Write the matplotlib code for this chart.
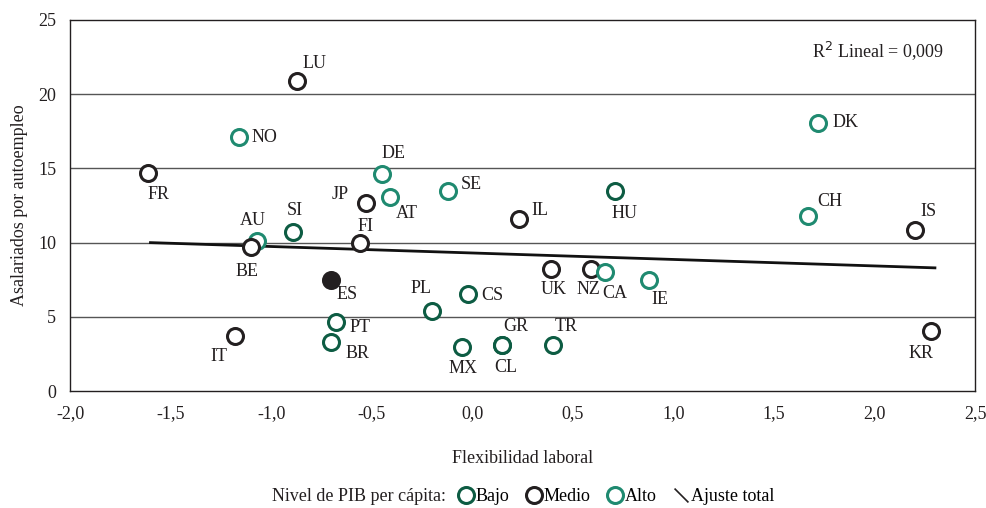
import numpy as np
import matplotlib
matplotlib.use('Agg')
import matplotlib.pyplot as plt
from matplotlib.lines import Line2D
from matplotlib.path import Path
from matplotlib.ticker import FuncFormatter

# DATA ------------------------------------------------------------------------
countries = ['FR', 'LU', 'NO', 'DE', 'JP', 'AT', 'SE', 'AU', 'BE', 'SI', 'FI',
             'ES', 'IL', 'HU', 'DK', 'CH', 'IS', 'PL', 'CS', 'PT', 'BR', 'IT',
             'MX', 'GR', 'CL', 'TR', 'UK', 'NZ', 'CA', 'IE', 'KR']
flex = [-1.61, -0.87, -1.16, -0.45, -0.53, -0.41, -0.12, -1.07, -1.10, -0.89, -0.56,
        -0.70, 0.23, 0.71, 1.72, 1.67, 2.20, -0.20, -0.02, -0.68, -0.70, -1.18,
        -0.05, 0.15, 0.15, 0.40, 0.39, 0.59, 0.66, 0.88, 2.28]
asal = [14.7, 20.9, 17.1, 14.6, 12.7, 13.1, 13.5, 10.1, 9.7, 10.7, 9.97,
        7.5, 11.6, 13.5, 18.05, 11.8, 10.85, 5.4, 6.55, 4.65, 3.3, 3.7,
        2.95, 3.1, 3.1, 3.1, 8.2, 8.2, 8.0, 7.5, 4.05]
nivel = ['M', 'M', 'A', 'A', 'M', 'A', 'A', 'A', 'M', 'B', 'M',
         'ES', 'M', 'B', 'A', 'A', 'M', 'B', 'B', 'B', 'B', 'M',
         'B', 'B', 'B', 'B', 'M', 'M', 'A', 'A', 'M']
# label offsets (pixels) from each point
lab_dx = [10, 17, 25, 12, -26, 17, 23, -4, -4, 2, 6,
          16, 21, 9, 27, 22, 14, -11, 24, 24, 26, -16,
          1, 13, 3, 13, 3, -3, 10, 11, -10]
lab_dy = [-22, 17, 0, 21, 8, -17, 6, 21, -24, 22, 17,
          -15, 8, -23, 1, 14, 18, 22, -2, -5, -11, -20,
          -21, 19, -22, 19, -20, -20, -21, -20, -22]

fit_x = [-1.6, 2.3]
fit_y = [10.0, 8.3]

colors = {'B': '#0d5c43', 'M': '#231f20', 'A': '#1f8a70', 'ES': '#231f20'}

plt.rcParams['font.family'] = ['Liberation Serif', 'DejaVu Serif']

fig = plt.figure(figsize=(9.86, 5.08), dpi=100)
ax = fig.add_axes([0.071, 0.230, 0.918, 0.731])

for h in [5, 10, 15, 20]:
    ax.axhline(h, color='#555555', lw=1.0, zorder=0)

ax.plot(fit_x, fit_y, color='#111111', lw=2.0, zorder=1)

for c, x, y, n, dx, dy in zip(countries, flex, asal, nivel, lab_dx, lab_dy):
    face = '#231f20' if n == 'ES' else 'white'
    ax.plot(x, y, 'o', ms=11.5, mfc=face, mec=colors[n], mew=2.2, zorder=3)
    ax.annotate(c, (x, y), xytext=(dx, dy), textcoords='offset pixels',
                ha='center', va='center', fontsize=13, color='#231f20', zorder=4)

ax.text(0.966, 0.918, r'R$^2$ Lineal = 0,009', transform=ax.transAxes,
        ha='right', va='center', fontsize=13, color='#231f20')

ax.set_xlim(-2.0, 2.5)
ax.set_ylim(0, 25)
ax.set_xticks(np.arange(-2.0, 2.51, 0.5))
ax.set_yticks([0, 5, 10, 15, 20, 25])
ax.xaxis.set_major_formatter(FuncFormatter(lambda v, p: ('%.1f' % v).replace('.', ',')))
ax.tick_params(length=0, labelsize=13, colors='#231f20', pad=10)
ax.tick_params(axis='y', pad=10)
for s in ax.spines.values():
    s.set_color('#231f20')
    s.set_linewidth(1.0)

ax.set_xlabel('Flexibilidad laboral', fontsize=13, color='#231f20', labelpad=20)
ax.set_ylabel('Asalariados por autoempleo', fontsize=13, color='#231f20', labelpad=7)

# LEGEND ----------------------------------------------------------------------
slash = Path([(-1, 1), (1, -1)], [Path.MOVETO, Path.LINETO])
handles = [
    Line2D([], [], ls='none', marker='o', ms=11.5, mfc='white', mec=colors['B'], mew=2.2),
    Line2D([], [], ls='none', marker='o', ms=11.5, mfc='white', mec=colors['M'], mew=2.2),
    Line2D([], [], ls='none', marker='o', ms=11.5, mfc='white', mec=colors['A'], mew=2.2),
    Line2D([], [], ls='none', marker=slash, ms=10, mec='#231f20', mew=1.2),
]
fig.text(0.452, 0.022, 'Nivel de PIB per cápita:', ha='right', va='center',
         fontsize=13, color='#231f20')
fig.legend(handles, ['Bajo', 'Medio', 'Alto', 'Ajuste total'], ncol=4,
           loc='center left', bbox_to_anchor=(0.455, 0.022), frameon=False,
           fontsize=13, handlelength=0.9, handletextpad=0.1, columnspacing=0.9,
           borderpad=0)

fig.savefig('out.png', dpi=100)
